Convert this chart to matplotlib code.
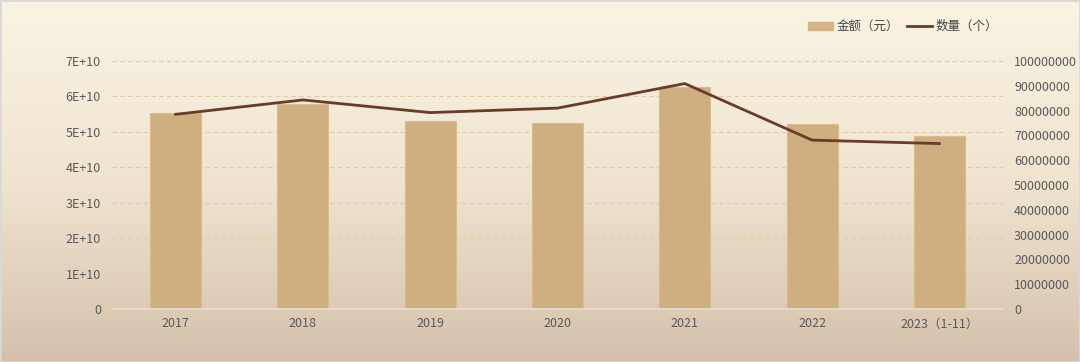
import matplotlib.pyplot as plt
import numpy as np
from matplotlib.colors import LinearSegmentedColormap

plt.rcParams['font.family'] = ['Noto Sans CJK SC', 'DejaVu Sans']

years = ['2017', '2018', '2019', '2020', '2021', '2022', '2023（1-11）']
amount = [5.54e10, 5.78e10, 5.31e10, 5.25e10, 6.27e10, 5.21e10, 4.88e10]
count = [78.5e6, 84.3e6, 79.2e6, 81.0e6, 90.9e6, 68.1e6, 66.7e6]

left_ticks = np.arange(0, 8e10, 1e10)
left_labels = ['0'] + ['%dE+10' % i for i in range(1, 8)]
right_ticks = np.arange(0, 1.1e8, 1e7)
right_labels = ['%d' % v for v in right_ticks]

fig = plt.figure(figsize=(10.8, 3.62), dpi=100)

# background gradient
bg = fig.add_axes([0, 0, 1, 1], zorder=-10)
cmap = LinearSegmentedColormap.from_list('bg', ['#faf4e4', '#f0e4d0', '#d5c1ab'])
grad = np.linspace(0, 1, 256).reshape(-1, 1)
bg.imshow(grad, aspect='auto', cmap=cmap, extent=[0, 1, 0, 1])
bg.axis('off')
# thin border
for x0, y0, x1, y1 in [(0, 0, 1, 0), (0, 1, 1, 1), (0, 0, 0, 1), (1, 0, 1, 1)]:
    bg.plot([x0, x1], [y0, y1], color='#d9d9d9', lw=2, transform=bg.transAxes)
bg.set_xlim(0, 1)
bg.set_ylim(0, 1)

ax = fig.add_axes([112 / 1080, 1 - 309 / 362, 891 / 1080, 248 / 362])
ax.patch.set_alpha(0)
x = np.arange(len(years))
ax.bar(x, amount, width=0.4, color='#cfae80', edgecolor='#d9bc92', lw=0.8, zorder=2)
ax.set_xlim(-0.5, len(years) - 0.5)
ax.set_ylim(0, 7e10)
ax.set_yticks(left_ticks)
ax.set_yticklabels(left_labels)
ax.set_xticks(x)
ax.set_xticklabels(years)
ax.yaxis.grid(True, ls=(0, (4, 3)), color='#e0cba8', lw=0.8)
ax.set_axisbelow(True)
for s in ['top', 'right', 'left']:
    ax.spines[s].set_visible(False)
ax.spines['bottom'].set_color('#e6ddd2')
ax.spines['bottom'].set_linewidth(1.2)
ax.tick_params(length=0, labelsize=9, labelcolor='#595959', pad=8)
ax.tick_params(axis='x', pad=6)

ax2 = ax.twinx()
ax2.plot(x, count, color='#6a3b2b', lw=2, zorder=3)
ax2.set_ylim(0, 1e8)
ax2.set_yticks(right_ticks)
ax2.set_yticklabels(right_labels)
for s in ax2.spines.values():
    s.set_visible(False)
ax2.tick_params(length=0, labelsize=9, labelcolor='#595959', pad=8)

handles = [plt.Rectangle((0, 0), 1, 1, color='#d4b487'),
           plt.Line2D([0], [0], color='#6a3b2b', lw=2)]
fig.legend(handles, ['金额（元）', '数量（个）'], loc='upper right',
           bbox_to_anchor=(1009 / 1080, 1 - 9 / 362), ncol=2, frameon=False,
           fontsize=9, labelcolor='#444444', handlelength=2.0,
           handleheight=0.6, columnspacing=0.6, handletextpad=0.3)

fig.savefig('out.png', dpi=100)
